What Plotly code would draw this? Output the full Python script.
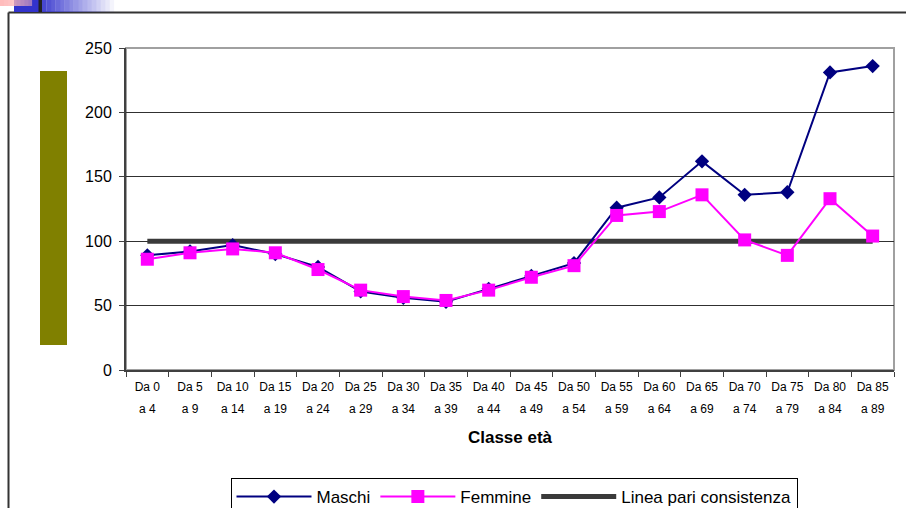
import plotly.graph_objects as go

# ---- data ----
age_from = ["Da 0", "Da 5", "Da 10", "Da 15", "Da 20", "Da 25", "Da 30", "Da 35", "Da 40",
            "Da 45", "Da 50", "Da 55", "Da 60", "Da 65", "Da 70", "Da 75", "Da 80", "Da 85"]
age_to = ["a 4", "a 9", "a 14", "a 19", "a 24", "a 29", "a 34", "a 39", "a 44",
          "a 49", "a 54", "a 59", "a 64", "a 69", "a 74", "a 79", "a 84", "a 89"]
maschi = [89, 92, 97, 90, 80, 61, 56, 53, 63, 73, 83, 126, 134, 162, 136, 138, 231, 236]
femmine = [86, 91, 94, 91, 78, 62, 57, 54, 62, 72, 81, 120, 123, 136, 101, 89, 133, 104]
linea = [100, 100, 100, 100, 100, 100, 100, 100, 100, 100, 100, 100, 100, 100, 100, 100, 100, 100]
y_ticks = [0, 50, 100, 150, 200, 250]

idx = list(range(len(age_from)))
FONT = "Liberation Sans, Arial, sans-serif"

W, H = 906, 508
ML, MR, MT, MB = 126, 12, 48, 138
PW, PH = W - ML - MR, H - MT - MB


def px(x):
    return (x - ML) / PW


def py(y):
    return (H - MB - y) / PH


fig = go.Figure()
fig.add_trace(go.Scatter(x=idx, y=linea, name="Linea pari consistenza", mode="lines",
                         line=dict(color="#3a3a3a", width=5), legendrank=3))
fig.add_trace(go.Scatter(x=idx, y=maschi, name="Maschi", mode="lines+markers",
                         line=dict(color="#000080", width=2),
                         marker=dict(symbol="diamond", size=11, color="#000080"), legendrank=1))
fig.add_trace(go.Scatter(x=idx, y=femmine, name="Femmine", mode="lines+markers",
                         line=dict(color="#FF00FF", width=2),
                         marker=dict(symbol="square", size=13, color="#FF00FF"), legendrank=2))
# helper trace for the second line of category labels
fig.add_trace(go.Scatter(x=idx, y=femmine, xaxis="x2", mode="markers", showlegend=False,
                         hoverinfo="skip", marker=dict(opacity=0)))

shapes = [
    dict(type="rect", xref="paper", yref="paper", x0=0, x1=1, y0=0, y1=1,
         line=dict(color="#a0a0a0", width=2), layer="below"),
    dict(type="line", xref="paper", yref="paper", x0=px(8.5), x1=px(906), y0=py(12.5), y1=py(12.5),
         line=dict(color="#333333", width=2)),
    dict(type="line", xref="paper", yref="paper", x0=px(8.5), x1=px(8.5), y0=py(12.5), y1=py(508),
         line=dict(color="#333333", width=2)),
    dict(type="rect", xref="paper", yref="paper", x0=px(40), x1=px(67), y0=py(345), y1=py(71),
         fillcolor="#808000", line=dict(width=0)),
    dict(type="rect", xref="paper", yref="paper", x0=px(14), x1=px(40), y0=py(12), y1=py(0),
         fillcolor="#3333cc", line=dict(width=0)),
]
steps = 16
for i in range(steps):
    x0 = 42 + i * 4.5
    shapes.append(dict(type="rect", xref="paper", yref="paper", x0=px(x0), x1=px(x0 + 4.6),
                       y0=py(12), y1=py(0), fillcolor="#3333cc",
                       opacity=max(0.0, 0.9 * (1 - i / steps)), line=dict(width=0)))
for i in range(8):
    x0 = i * 4
    shapes.append(dict(type="rect", xref="paper", yref="paper", x0=px(x0), x1=px(x0 + 4.1),
                       y0=py(6), y1=py(0), fillcolor="#ffb8b8",
                       opacity=0.95 - i * 0.06, line=dict(width=0)))
shapes.append(dict(type="rect", xref="paper", yref="paper", x0=px(38.5), x1=px(42), y0=py(12), y1=py(0),
                   fillcolor="#222222", line=dict(width=0)))

fig.update_layout(
    width=W, height=H,
    margin=dict(l=ML, r=MR, t=MT, b=MB, autoexpand=False),
    paper_bgcolor="white", plot_bgcolor="white",
    font=dict(family=FONT, color="black"),
    showlegend=True,
    legend=dict(orientation="h", xref="container", yref="container",
                x=514 / W, xanchor="center", y=1 - 478 / H, yanchor="top",
                bordercolor="#000000", borderwidth=1, bgcolor="white", itemwidth=75,
                font=dict(size=17, family=FONT), traceorder="normal"),
    xaxis=dict(range=[-0.5, len(idx) - 0.5], tickmode="array", tickvals=idx, ticktext=age_from,
               ticks="", showgrid=False, zeroline=False, showline=True,
               linecolor="#404040", linewidth=2, tickfont=dict(size=12, family=FONT),
               ticklabelstandoff=5,
               minor=dict(tickmode="array", tickvals=[i - 0.5 for i in idx] + [len(idx) - 0.5],
                          ticks="outside", ticklen=5, tickcolor="#404040", tickwidth=1, showgrid=False)),
    xaxis2=dict(overlaying="x", anchor="y", side="bottom",
                range=[-0.5, len(idx) - 0.5], tickmode="array", tickvals=idx, ticktext=age_to,
                ticks="", showgrid=False, zeroline=False, showline=False,
                tickfont=dict(size=12, family=FONT), ticklabelstandoff=30,
                title=dict(text="<b>Classe età</b>", font=dict(size=17, family=FONT), standoff=16)),
    yaxis=dict(range=[0, 250], tickmode="array", tickvals=y_ticks, showgrid=True,
               gridcolor="#303030", gridwidth=1, zeroline=False, showline=True,
               linecolor="#404040", linewidth=2, ticks="outside", ticklen=5, tickcolor="#404040",
               tickfont=dict(size=16, family=FONT), ticklabelstandoff=4),
    shapes=shapes,
)

fig.write_html("out.html", config={"displayModeBar": False},
               post_script="document.body.style.margin='0px';document.body.style.overflow='hidden';")
